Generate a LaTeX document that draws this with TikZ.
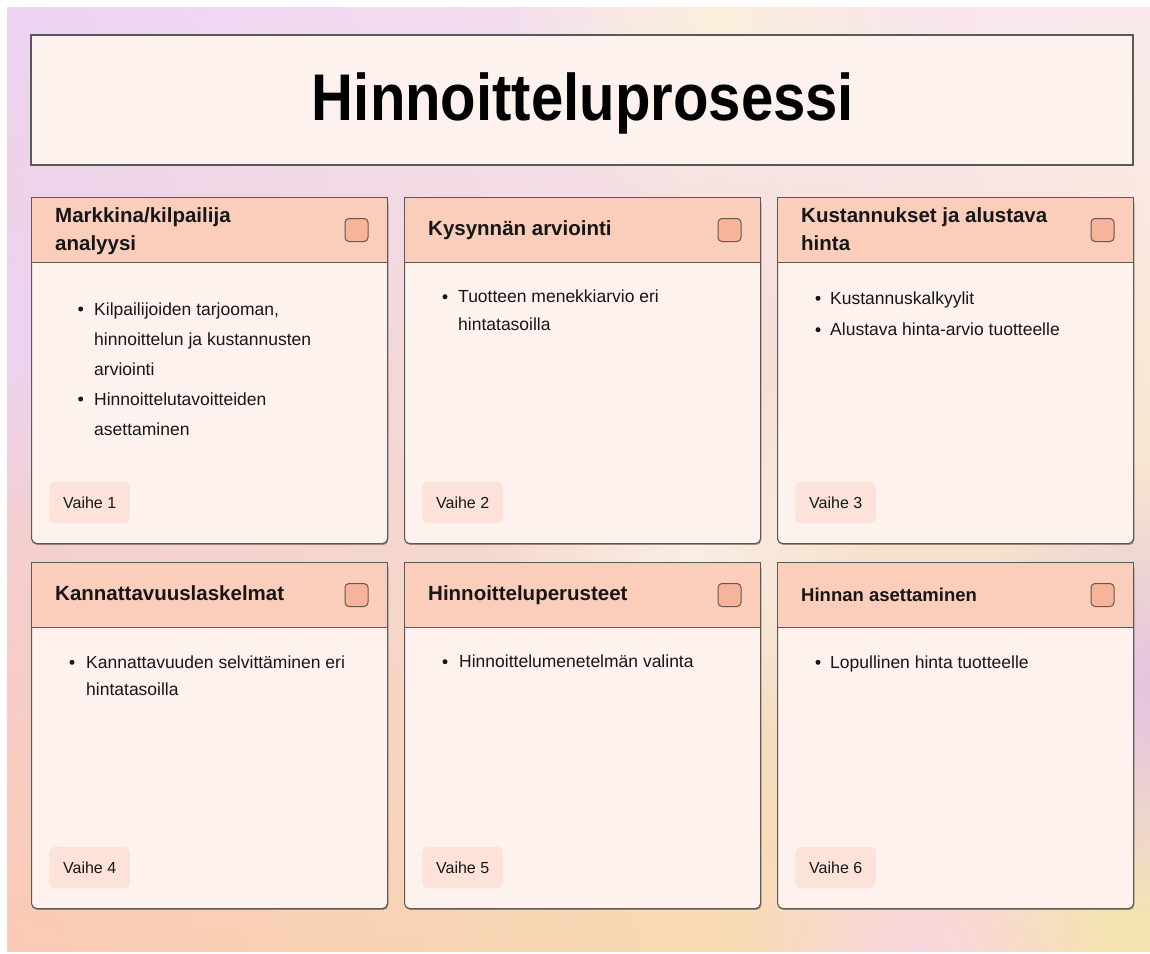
\documentclass[tikz,border=0pt]{standalone}
\usepackage{fontspec}
\setmainfont{Liberation Sans}
\newfontfamily\titlefont[FakeStretch=0.88]{Liberation Sans}
\usetikzlibrary{shadows,fadings,shadings}
\definecolor{bgTL}{HTML}{ECD4F3}
\definecolor{bgTR}{HTML}{FAEAEC}
\definecolor{bgBL}{HTML}{FACAB4}
\definecolor{bgBR}{HTML}{F5E4B0}
\definecolor{bgLav}{HTML}{E4C2E3}
\definecolor{bgPink}{HTML}{F9D6E2}
\definecolor{bgCream}{HTML}{FBF0DC}
\definecolor{cardbg}{HTML}{FDF2EE}
\definecolor{headbg}{HTML}{FBCDBB}
\definecolor{chkbg}{HTML}{F6B59B}
\definecolor{chkline}{HTML}{6A5550}
\definecolor{badgebg}{HTML}{FCE2D9}
\definecolor{edge}{HTML}{595959}
\definecolor{ink}{HTML}{161616}
\tikzfading[name=softblob, inner color=transparent!0, outer color=transparent!100]
\tikzset{
  cardbody/.style={anchor=north west, rectangle, rounded corners=5pt, draw=edge, line width=1.1pt,
    fill=cardbg, minimum width=356pt, minimum height=346pt, inner sep=0pt,
    drop shadow={shadow xshift=0.8pt, shadow yshift=-1.4pt, opacity=0.35, fill=black}},
  cardhead/.style={anchor=north west, rectangle, draw=edge, line width=1.1pt, fill=headbg,
    minimum width=356pt, minimum height=65pt, inner sep=0pt},
  chk/.style={rectangle, rounded corners=4pt, draw=chkline, line width=1pt, fill=chkbg,
    minimum width=23pt, minimum height=23pt, inner sep=0pt},
  htitle/.style={anchor=north west, align=left, inner sep=0pt, text=ink,
    font=\bfseries\fontsize{20.5}{27.7}\selectfont},
  badge/.style={rectangle, rounded corners=6pt, fill=badgebg, minimum width=80.5pt,
    minimum height=41.5pt, inner sep=0pt, text=ink, font=\fontsize{16}{19}\selectfont},
  itemtxt/.style={anchor=north west, align=left, inner sep=0pt, text=ink,
    font=\fontsize{17.5}{\itemskip}\selectfont},
  dot/.style={circle, fill=ink, inner sep=0pt, minimum size=5pt},
  titlebox/.style={rectangle, draw=edge, line width=1.1pt, fill=cardbg,
    minimum width=1102pt, minimum height=130pt, inner sep=0pt},
  titletxt/.style={anchor=base, inner sep=0pt, text=black,
    font=\titlefont\bfseries\fontsize{66}{70}\selectfont}
}
\def\itemskip{27.5}
% card frame: name, x, y, title, title north offset, vaihe text, body code
\newcommand\cardframe[7]{%
  \begin{scope}[shift={(#2,#3)}]
    \node[cardbody] (#1) at (0,0) {};
    \node[cardhead] (#1h) at (0,0) {};
    \node[chk] (#1c) at (325.5,33) {};
    \node[htitle] (#1t) at (24,#5) {\strut #4};
    \node[badge] (#1v) at (58.7,305.5) {#6};
    #7
  \end{scope}}
% bullet item: name, bullet x, text x, first baseline, text
\newcommand\bitem[5]{%
  \node[dot] (#1d) at (#2,#4-6) {};
  \node[itemtxt] (#1) at (#3,#4-0.7*\itemskip) {\strut #5};}
\begin{document}
\begin{tikzpicture}[x=1pt,y=-1pt]
\useasboundingbox (0,0) rectangle (1150,953);
\fill[white] (0,0) rectangle (1150,953);
\begin{scope}
  \clip (7,7) rectangle (1150,951);
  \shade[upper left=bgTL, upper right=bgTR, lower left=bgBL, lower right=bgBR] (7,7) rectangle (1150,951);
  \fill[bgLav, path fading=softblob] (1160,690) circle (230);
  \fill[bgPink, path fading=softblob] (920,960) circle (190);
  \fill[bgCream, path fading=softblob] (720,10) circle (220);
  \fill[bgTL, path fading=softblob] (0,330) circle (200);
  \fill[white, opacity=0.5, path fading=softblob] (690,550) circle (200);
\end{scope}

\node[titlebox] (title) at (582,100) {};
\node[titletxt] (titletext) at (583,120) {Hinnoitteluprosessi};

\cardframe{c1}{31}{197}{Markkina/kilpailija\\analyysi}{6.05}{Vaihe 1}{%
  \def\itemskip{30}%
  \bitem{c1a}{49.7}{63}{118}{Kilpailijoiden tarjooman,\\hinnoittelun ja kustannusten\\arviointi}
  \bitem{c1b}{49.7}{63}{208}{Hinnoittelutavoitteiden\\asettaminen}}
\cardframe{c2}{404}{197}{Kysynnän arviointi}{18.75}{Vaihe 2}{%
  \bitem{c2a}{41}{54}{105.7}{Tuotteen menekkiarvio eri\\hintatasoilla}}
\cardframe{c3}{777}{197}{Kustannukset ja alustava\\hinta}{6.05}{Vaihe 3}{%
  \bitem{c3a}{41}{53}{107.3}{Kustannuskalkyylit}
  \bitem{c3b}{41}{53}{138.7}{Alustava hinta-arvio tuotteelle}}
\cardframe{c4}{31}{562}{Kannattavuuslaskelmat}{18.75}{Vaihe 4}{%
  \def\itemskip{26.5}%
  \bitem{c4a}{41}{55}{106.3}{Kannattavuuden selvittäminen eri\\hintatasoilla}}
\cardframe{c5}{404}{562}{Hinnoitteluperusteet}{18.75}{Vaihe 5}{%
  \bitem{c5a}{41}{55}{105.7}{Hinnoittelumenetelmän valinta}}
\cardframe{c6}{777}{562}{\fontsize{18.5}{27.7}\selectfont Hinnan asettaminen}{19.75}{Vaihe 6}{%
  \bitem{c6a}{41}{53}{106.3}{Lopullinen hinta tuotteelle}}
\end{tikzpicture}
\end{document}
